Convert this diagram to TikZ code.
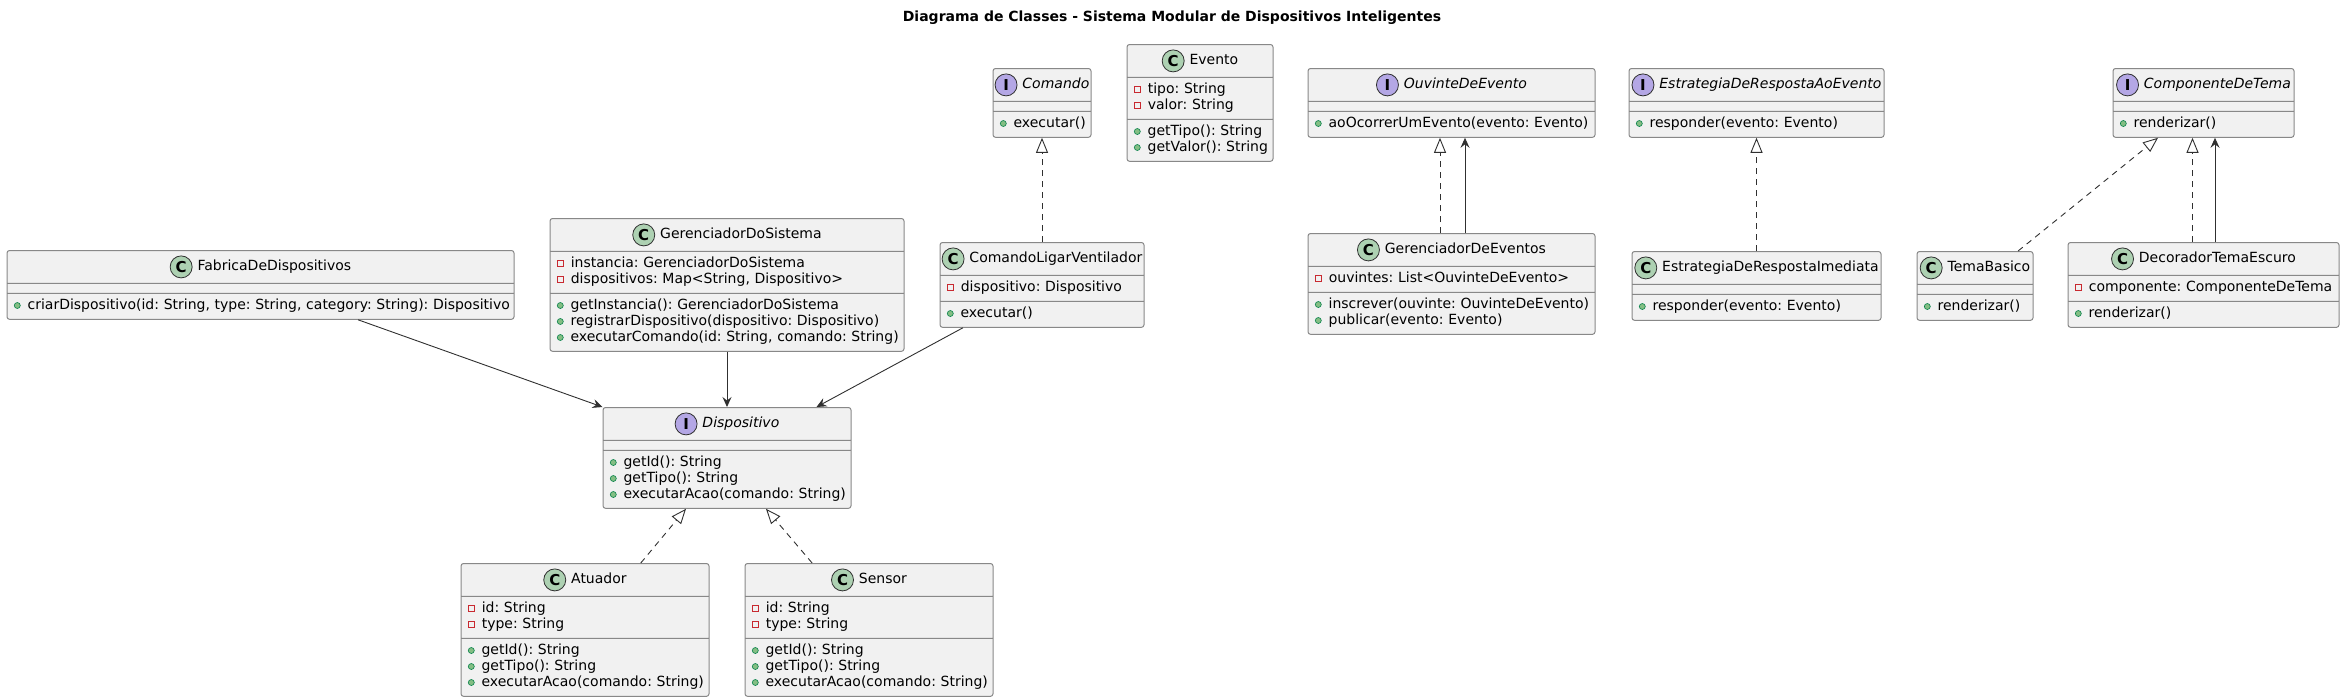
\documentclass[tikz,border=0pt]{standalone}
\usepackage{fontspec}
\setmainfont{DejaVu Sans}
\usepackage{tikz}
\usetikzlibrary{shapes.multipart, arrows.meta}

\definecolor{classbg}{HTML}{F1F1F1}
\definecolor{classline}{HTML}{888888}
\definecolor{edgeline}{HTML}{303030}
\definecolor{ciconbg}{HTML}{ADD1B2}
\definecolor{iiconbg}{HTML}{B4A7E5}
\definecolor{pubfill}{HTML}{84BE84}
\definecolor{publine}{HTML}{038048}
\definecolor{privline}{HTML}{C82930}

% header icon and member marks
\newcommand{\icon}[2]{\tikz[baseline=-4pt]\node[circle, anchor=center, draw=edgeline, line width=0.8pt, fill=#2, text=black, minimum size=22pt, inner sep=0pt, text width={}, font=\fontsize{15}{15}\selectfont\bfseries] {#1};}
\newcommand{\chead}[1]{\makebox[\hsize][c]{\icon{C}{ciconbg}\hspace{5pt}#1\strut}}
\newcommand{\ihead}[1]{\makebox[\hsize][c]{\icon{I}{iiconbg}\hspace{5pt}\itshape #1\strut}}
\newcommand{\pub}[1]{\mbox{\tikz[baseline=-4pt]\filldraw[fill=pubfill, draw=publine, line width=0.6pt] (0pt,0pt) circle (3pt);\hspace{7pt}\strut #1}}
\newcommand{\priv}[1]{\mbox{\tikz[baseline=-4pt]\draw[sharp corners, draw=privline, line width=0.8pt] (-3pt,-3pt) rectangle (3pt,3pt);\hspace{7pt}\strut #1}}

\begin{document}
\begin{tikzpicture}
                      [x=1pt, y=-1pt,
                      umlclass/.style={rectangle split, rectangle split parts=3, draw=classline, fill=classbg, line width=1pt, rounded corners=2.5pt, inner xsep=7pt, inner ysep=4.5pt, anchor=north, align=left, font=\fontsize{14}{16}\selectfont\frenchspacing},
                      assoc/.style={-{Stealth[length=10pt, width=9pt, inset=3.5pt]}, draw=edgeline, line width=0.9pt},
                      realize/.style={-{Triangle[open, length=15pt, width=12pt, fill=white]}, draw=edgeline, line width=0.9pt, dash pattern=on 6pt off 5pt}]
                      \useasboundingbox (0,0) rectangle (2345,699);

                      % nodes %
                      \node[font=\fontsize{14}{16}\selectfont\bfseries] (title) at (1172,18) {Diagrama de Classes - Sistema Modular de Dispositivos Inteligentes};

                      \node[umlclass, text width=493pt] (fabrica) at (260.5,250) {\chead{FabricaDeDispositivos}
                        \nodepart{two}
                        \nodepart{three} \pub{criarDispositivo(id: String, type: String, category: String): Dispositivo}};
                      \node[umlclass, text width=340pt] (gersistema) at (727,218) {\chead{GerenciadorDoSistema}
                        \nodepart{two} \priv{instancia: GerenciadorDoSistema}\\ \priv{dispositivos: Map<String, Dispositivo>}
                        \nodepart{three} \pub{getInstancia(): GerenciadorDoSistema}\\ \pub{registrarDispositivo(dispositivo: Dispositivo)}\\ \pub{executarComando(id: String, comando: String)}};
                      \node[umlclass, text width=190pt] (comandolig) at (1042,242) {\chead{ComandoLigarVentilador}
                        \nodepart{two} \priv{dispositivo: Dispositivo}
                        \nodepart{three} \pub{executar()}};
                      \node[umlclass, text width=84pt] (comando) at (1042,68) {\ihead{Comando}
                        \nodepart{two}
                        \nodepart{three} \pub{executar()}};
                      \node[umlclass, text width=132pt] (evento) at (1200,44) {\chead{Evento}
                        \nodepart{two} \priv{tipo: String}\\ \priv{valor: String}
                        \nodepart{three} \pub{getTipo(): String}\\ \pub{getValor(): String}};
                      \node[umlclass, text width=273pt] (ouvinte) at (1451.5,68) {\ihead{OuvinteDeEvento}
                        \nodepart{two}
                        \nodepart{three} \pub{aoOcorrerUmEvento(evento: Evento)}};
                      \node[umlclass, text width=273pt] (gereventos) at (1451.5,233) {\chead{GerenciadorDeEventos}
                        \nodepart{two} \priv{ouvintes: List<OuvinteDeEvento>}
                        \nodepart{three} \pub{inscrever(ouvinte: OuvinteDeEvento)}\\ \pub{publicar(evento: Evento)}};
                      \node[umlclass, text width=241pt] (estaoevento) at (1756.5,68) {\ihead{EstrategiaDeRespostaAoEvento}
                        \nodepart{two}
                        \nodepart{three} \pub{responder(evento: Evento)}};
                      \node[umlclass, text width=235pt] (estimediata) at (1756.5,251) {\chead{EstrategiaDeRespostaImediata}
                        \nodepart{two}
                        \nodepart{three} \pub{responder(evento: Evento)}};
                      \node[umlclass, text width=167pt] (componente) at (2203.5,68) {\ihead{ComponenteDeTema}
                        \nodepart{two}
                        \nodepart{three} \pub{renderizar()}};
                      \node[umlclass, text width=102pt] (temabasico) at (1975,251) {\chead{TemaBasico}
                        \nodepart{two}
                        \nodepart{three} \pub{renderizar()}};
                      \node[umlclass, text width=257pt] (decorador) at (2203.5,242) {\chead{DecoradorTemaEscuro}
                        \nodepart{two} \priv{componente: ComponenteDeTema}
                        \nodepart{three} \pub{renderizar()}};
                      \node[umlclass, text width=234pt] (dispositivo) at (727,407) {\ihead{Dispositivo}
                        \nodepart{two}
                        \nodepart{three} \pub{getId(): String}\\ \pub{getTipo(): String}\\ \pub{executarAcao(comando: String)}};
                      \node[umlclass, text width=234pt] (atuador) at (585,563) {\chead{Atuador}
                        \nodepart{two} \priv{id: String}\\ \priv{type: String}
                        \nodepart{three} \pub{getId(): String}\\ \pub{getTipo(): String}\\ \pub{executarAcao(comando: String)}};
                      \node[umlclass, text width=234pt] (sensor) at (869,563) {\chead{Sensor}
                        \nodepart{two} \priv{id: String}\\ \priv{type: String}
                        \nodepart{three} \pub{getId(): String}\\ \pub{getTipo(): String}\\ \pub{executarAcao(comando: String)}};

                      % edges %
                      \draw[assoc] (fabrica) -- (dispositivo.north west);
                      \draw[assoc] (gersistema) -- (dispositivo);
                      \draw[assoc] (comandolig) -- ([xshift=-35pt]dispositivo.north east);
                      \draw[realize] (comandolig) -- (comando);
                      \draw[realize] ([xshift=-11.5pt]gereventos.north) -- ([xshift=-11.5pt]ouvinte.south);
                      \draw[assoc] ([xshift=13.5pt]gereventos.north) -- ([xshift=13.5pt]ouvinte.south);
                      \draw[realize] (estimediata) -- (estaoevento);
                      \draw[realize] (temabasico) -- ([xshift=-45.5pt]componente.south);
                      \draw[realize] ([xshift=-11pt]decorador.north) -- ([xshift=-11pt]componente.south);
                      \draw[assoc] ([xshift=11.5pt]decorador.north) -- ([xshift=11.5pt]componente.south);
                      \draw[realize] (atuador) -- ([xshift=-41pt]dispositivo.south);
                      \draw[realize] (sensor) -- ([xshift=39pt]dispositivo.south);
                    \end{tikzpicture}
\end{document}
